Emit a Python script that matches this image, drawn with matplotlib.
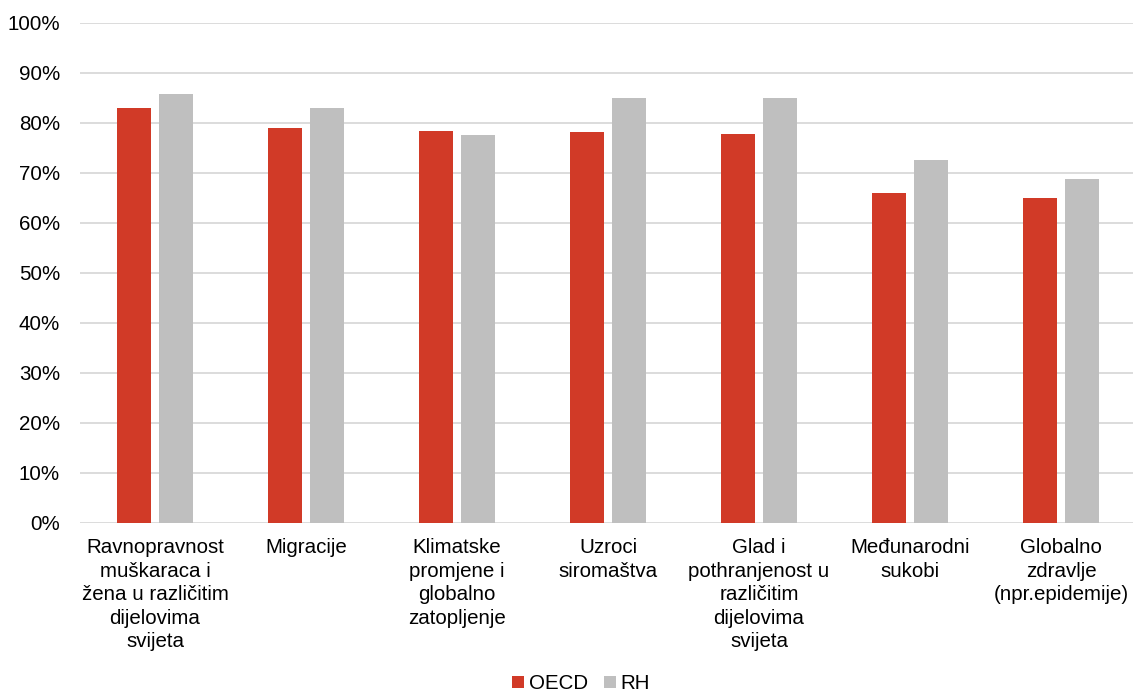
import matplotlib
matplotlib.use("Agg")
import matplotlib.pyplot as plt
import numpy as np

plt.rcParams['font.family'] = ['Liberation Sans', 'DejaVu Sans']

categories = [
    "Ravnopravnost\nmuškaraca i\nžena u različitim\ndijelovima\nsvijeta",
    "Migracije",
    "Klimatske\npromjene i\nglobalno\nzatopljenje",
    "Uzroci\nsiromaštva",
    "Glad i\npothranjenost u\nrazličitim\ndijelovima\nsvijeta",
    "Međunarodni\nsukobi",
    "Globalno\nzdravlje\n(npr.epidemije)",
]
oecd = [83.0, 79.1, 78.4, 78.3, 77.8, 66.0, 65.0]
rh = [85.8, 83.0, 77.7, 85.1, 85.1, 72.6, 68.9]
series_names = ["OECD", "RH"]
y_ticks = list(range(0, 101, 10))

RED = "#D13A27"
GRAY = "#BFBFBF"
FS = 14.8

W, H = 1133, 695
fig = plt.figure(figsize=(W / 100, H / 100), dpi=100)
ax = fig.add_axes([79.5 / W, 172 / H, 1057 / W, 500 / H])

x = np.arange(len(categories))
bw = 0.225
off = 0.142
ax.bar(x - off, oecd, bw, color=RED, label=series_names[0], zorder=3)
ax.bar(x + off, rh, bw, color=GRAY, label=series_names[1], zorder=3)

ax.set_xlim(-0.5, len(categories) - 0.5)
ax.set_ylim(0, 100)
ax.set_yticks(y_ticks)
ax.set_yticklabels([f"{t}%" for t in y_ticks])
ax.set_xticks(x)
ax.set_xticklabels(categories, linespacing=1.3)
ax.tick_params(axis='both', length=0, labelsize=FS, colors="#000000")
ax.tick_params(axis='x', pad=11)
ax.tick_params(axis='y', pad=14)
for lbl in ax.get_xticklabels():
    lbl.set_verticalalignment('top')

ax.grid(axis='y', color="#D9D9D9", linewidth=1.3, zorder=0)
for s in ax.spines.values():
    s.set_visible(False)

fig.legend(loc='center', bbox_to_anchor=(0.513, 0.016), ncol=2, frameon=False,
           fontsize=FS, handlelength=0.55, handleheight=0.55, handletextpad=0.25,
           columnspacing=0.8, borderpad=0.0)

fig.savefig("out.png", dpi=100)
